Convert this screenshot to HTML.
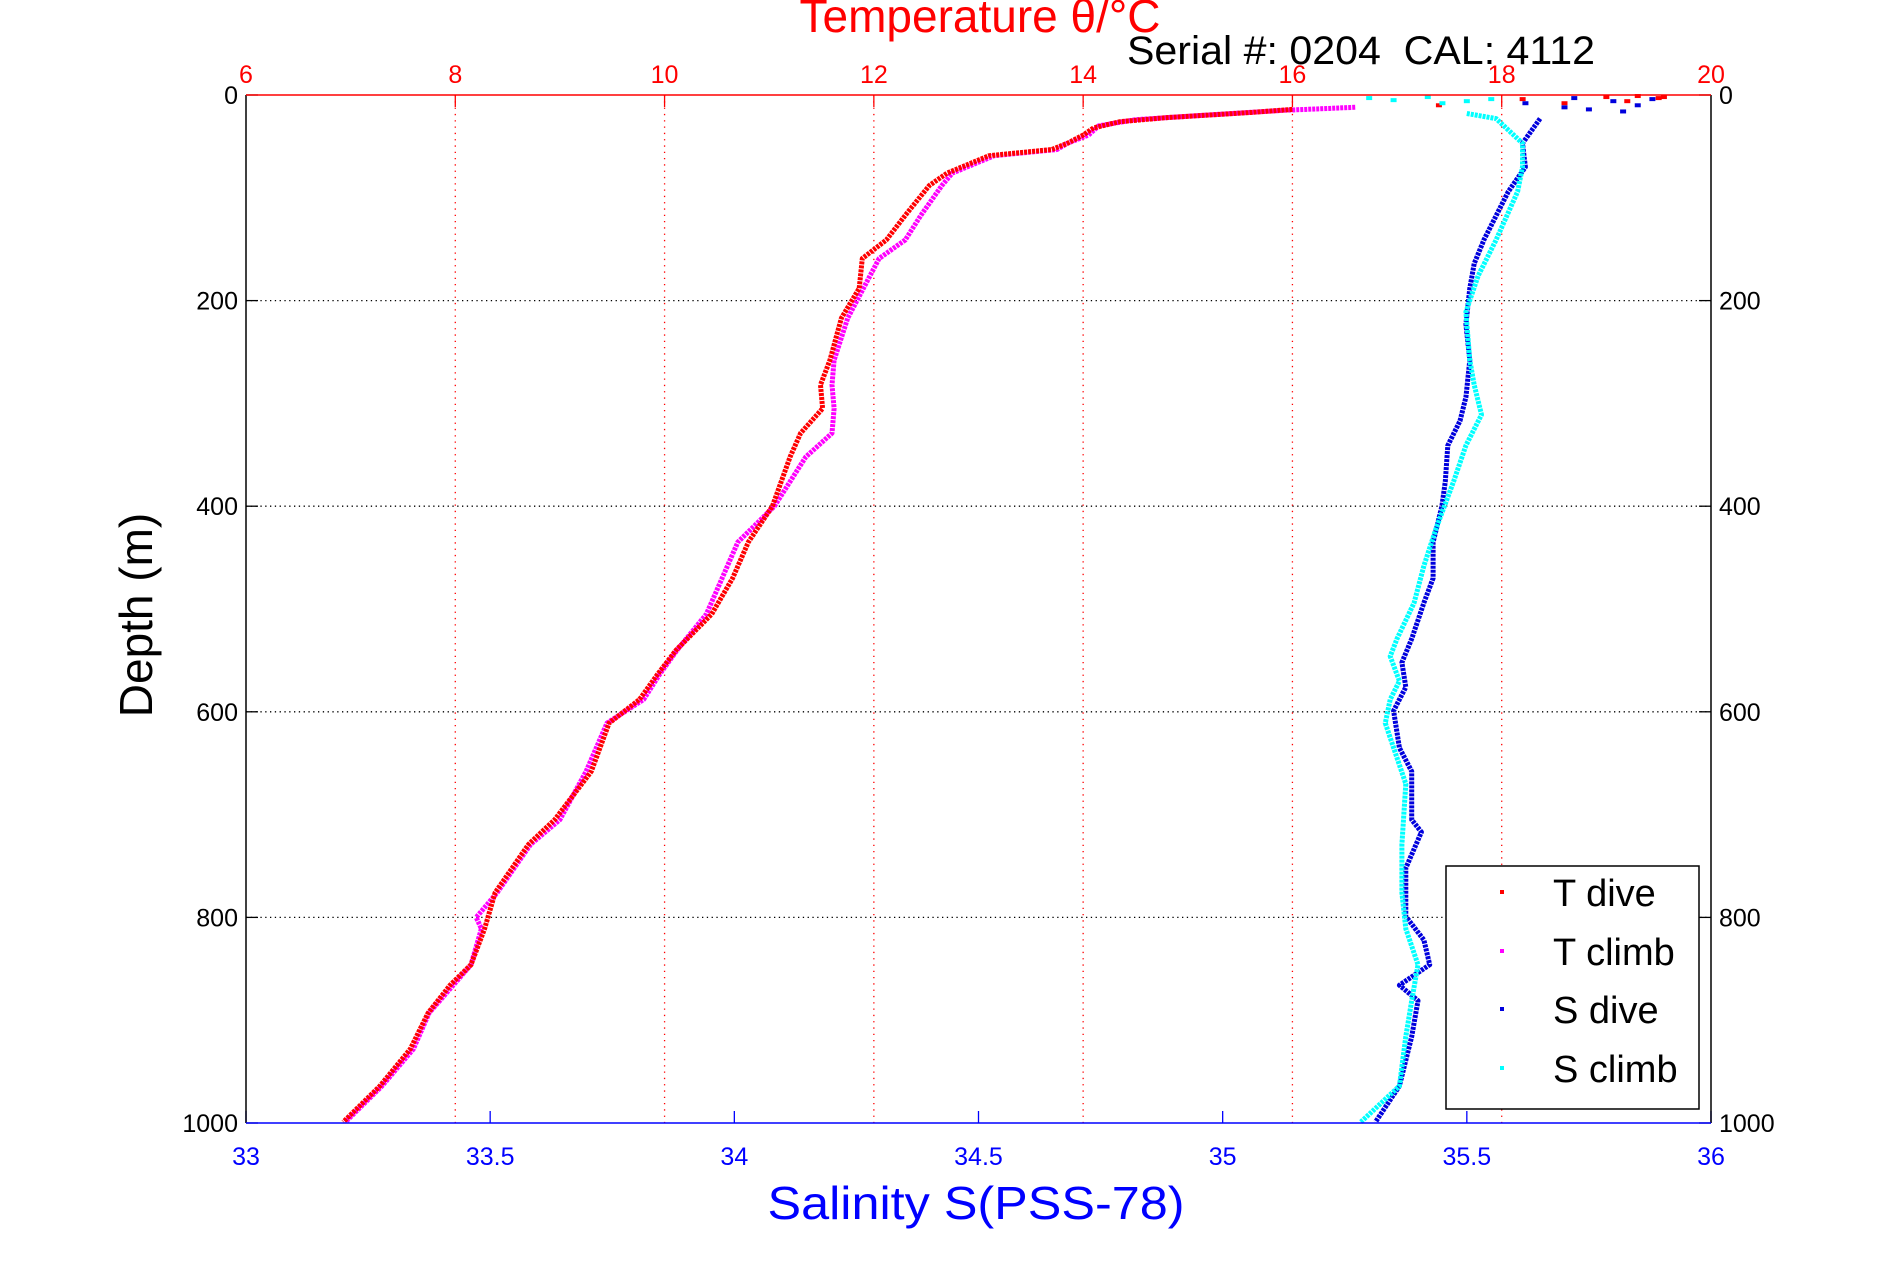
<!DOCTYPE html>
<html><head><meta charset="utf-8">
<style>
html,body{margin:0;padding:0;background:#fff;}
svg{display:block;font-family:"Liberation Sans",sans-serif;}
</style></head>
<body>
<svg id="chart" width="1891" height="1262" viewBox="0 0 1891 1262" xmlns="http://www.w3.org/2000/svg">
<rect width="1891" height="1262" fill="#fff"/>
<g id="grid"></g>
<g id="series"></g>
<g id="axes"></g>
<text x="980" y="32" font-size="46" fill="#ff0000" text-anchor="middle">Temperature θ/°C</text>
<text x="1127" y="64" font-size="40" fill="#000" textLength="468" lengthAdjust="spacingAndGlyphs" xml:space="preserve">Serial #: 0204  CAL: 4112</text>
<text transform="translate(152,615) rotate(-90)" font-size="46" fill="#000" text-anchor="middle">Depth (m)</text>
<text x="976" y="1219" font-size="46" fill="#0000ff" text-anchor="middle" textLength="417" lengthAdjust="spacingAndGlyphs">Salinity S(PSS-78)</text>
<g id="legend"></g>
</svg>
<script>
const depthTicks=[0,200,400,600,800,1000];
const tempTicks=[6,8,10,12,14,16,18,20];
const salTicks=[33,33.5,34,34.5,35,35.5,36];
const salTickLabels=["33","33.5","34","34.5","35","35.5","36"];

const tDiveDepth=[14,17,22,26,32,39,47,53,59,76,88,117,141,159,188,217,258,282,305,329,352,400,435,470,505,540,564,588,611,658,705,729,776,811,846,866,893,928,964,999];
const tDiveVal=[16.0,15.6,14.8,14.35,14.1,14.0,13.85,13.7,13.1,12.7,12.53,12.3,12.12,11.89,11.86,11.69,11.58,11.49,11.51,11.3,11.2,11.03,10.8,10.65,10.45,10.11,9.93,9.76,9.47,9.3,8.95,8.7,8.38,8.28,8.15,7.95,7.74,7.57,7.28,6.93];
const tClimbDepth=[12,15,20,24,30,39,47,53,59,76,88,117,141,159,188,217,258,282,305,329,352,400,435,470,505,540,564,588,611,658,705,729,776,800,811,846,893,928,964,999];
const tClimbVal=[16.6,15.9,15.1,14.5,14.15,14.05,13.85,13.75,13.15,12.75,12.65,12.45,12.3,12.05,11.9,11.75,11.62,11.6,11.62,11.6,11.35,11.05,10.7,10.55,10.4,10.12,9.95,9.8,9.45,9.25,9.0,8.72,8.4,8.2,8.25,8.15,7.75,7.6,7.3,6.95];
const tSurfDepth=[3,6,2,8,1,10,4,2];
const tSurfVal=[19.5,19.2,19.0,18.6,19.3,17.4,18.2,19.55];

const sDiveDepth=[23,47,70,94,141,164,188,223,258,294,317,341,376,400,435,470,494,529,552,576,599,635,658,705,717,752,799,822,846,866,881,916,964,999];
const sDiveVal=[35.65,35.614,35.62,35.585,35.535,35.515,35.506,35.498,35.506,35.498,35.486,35.461,35.456,35.449,35.431,35.431,35.412,35.387,35.367,35.375,35.35,35.362,35.387,35.387,35.407,35.375,35.375,35.412,35.424,35.362,35.4,35.387,35.362,35.313];
const sClimbDepth=[18,23,47,70,94,141,176,211,258,282,311,341,376,423,458,494,529,546,570,588,611,635,670,729,776,811,846,881,916,964,999];
const sClimbVal=[35.5,35.56,35.614,35.614,35.604,35.56,35.523,35.498,35.506,35.515,35.53,35.498,35.473,35.436,35.412,35.392,35.357,35.343,35.362,35.343,35.333,35.35,35.375,35.367,35.367,35.375,35.4,35.387,35.375,35.362,35.283];
const sDiveSurfDepth=[3,6,12,16,10,4,14,8];
const sDiveSurfVal=[35.72,35.8,35.7,35.82,35.85,35.88,35.75,35.62];
const sClimbSurfDepth=[3,5,2,8,6,4];
const sClimbSurfVal=[35.3,35.35,35.42,35.45,35.5,35.55];

const L=246,R=1711,T=95,B=1123;
const yD=d=>T+(d/1000)*(B-T);
const xT=t=>L+(t-6)/14*(R-L);
const xS=s=>L+(s-33)/3*(R-L);
const NS="http://www.w3.org/2000/svg";
function mk(tag,attrs,parent){const e=document.createElementNS(NS,tag);for(const k in attrs)e.setAttribute(k,attrs[k]);parent.appendChild(e);return e;}
const grid=document.getElementById('grid'),axes=document.getElementById('axes'),series=document.getElementById('series');

depthTicks.forEach(d=>{
  if(d>0&&d<1000){const g=mk('line',{x1:L,x2:R,y1:yD(d),y2:yD(d),stroke:'#000','stroke-width':1.3,'stroke-dasharray':'1.3 3.5'},grid);
  
  }
  mk('line',{x1:L,x2:L+12,y1:yD(d),y2:yD(d),stroke:'#000','stroke-width':1.3},axes);
  mk('line',{x1:R-12,x2:R,y1:yD(d),y2:yD(d),stroke:'#000','stroke-width':1.3},axes);
  const a=mk('text',{x:L-8,y:yD(d)+9,'font-size':25,'text-anchor':'end',fill:'#000'},axes);a.textContent=d;
  
  
  const b=mk('text',{x:R+8,y:yD(d)+9,'font-size':25,fill:'#000'},axes);b.textContent=d;
  
  
});
tempTicks.forEach(t=>{
  if(t>6&&t<20){const g=mk('line',{x1:xT(t),x2:xT(t),y1:T,y2:B,stroke:'#ff0000','stroke-width':1.3,'stroke-dasharray':'1.3 5'},grid);
  
  
  mk('line',{x1:xT(t),x2:xT(t),y1:T,y2:T+12,stroke:'#ff0000','stroke-width':1.3},axes);}
  const a=mk('text',{x:xT(t),y:T-12,'font-size':25,'text-anchor':'middle',fill:'#ff0000'},axes);a.textContent=t;
  
  
});
salTicks.forEach((s,i)=>{
  mk('line',{x1:xS(s),x2:xS(s),y1:B-12,y2:B,stroke:'#0000ff','stroke-width':1.3},axes);
  const a=mk('text',{x:xS(s),y:B+42,'font-size':25,'text-anchor':'middle',fill:'#0000ff'},axes);a.textContent=salTickLabels[i];
  
  
});
mk('line',{x1:L,x2:L,y1:T,y2:B,stroke:'#000','stroke-width':1.5},axes);
mk('line',{x1:R,x2:R,y1:T,y2:B,stroke:'#000','stroke-width':1.5},axes);
mk('line',{x1:L,x2:R,y1:T,y2:T,stroke:'#ff0000','stroke-width':1.5},axes);
mk('line',{x1:L,x2:R,y1:B,y2:B,stroke:'#0000ff','stroke-width':1.5},axes);

function drawLine(depths,vals,xf,color,name){
  const pts=depths.map((d,i)=>xf(vals[i]).toFixed(1)+','+yD(d).toFixed(1)).join(' ');
  const p=mk('polyline',{points:pts,fill:'none',stroke:color,'stroke-width':5,'stroke-linejoin':'round','stroke-dasharray':'3 1'},series);
  
  
}
function drawPts(depths,vals,xf,color,name){
  depths.forEach((d,i)=>{
    const c=mk('rect',{x:xf(vals[i])-3,y:yD(d)-2,width:6,height:4,fill:color},series);
    
    
  });
}
drawLine(tClimbDepth,tClimbVal,xT,'#ff00ff','t-climb-series');
drawLine(tDiveDepth,tDiveVal,xT,'#ff0000','t-dive-series');
drawPts(tSurfDepth,tSurfVal,xT,'#ff0000','t-surface-point');
drawLine(sDiveDepth,sDiveVal,xS,'#0000dd','s-dive-series');
drawPts(sDiveSurfDepth,sDiveSurfVal,xS,'#0000dd','s-dive-surface-point');
drawLine(sClimbDepth,sClimbVal,xS,'#00ffff','s-climb-series');
drawPts(sClimbSurfDepth,sClimbSurfVal,xS,'#00ffff','s-climb-surface-point');

const lg=document.getElementById('legend');
mk('rect',{x:1446,y:866,width:253,height:243,fill:'#fff',stroke:'#000','stroke-width':1.5},lg);
const legNames=["T dive","T climb","S dive","S climb"];
const legColors=["#ff0000","#ff00ff","#0000dd","#00ffff"];
const legY=[906,965,1023,1082];
legNames.forEach((n,i)=>{
  const g=mk('g',{},lg);
  
  
  mk('rect',{x:1500,y:legY[i]-16,width:4,height:4,fill:legColors[i]},g);
  const t=mk('text',{x:1553,y:legY[i],'font-size':38,fill:'#000'},g);t.textContent=n;
});
</script>
</body></html>
